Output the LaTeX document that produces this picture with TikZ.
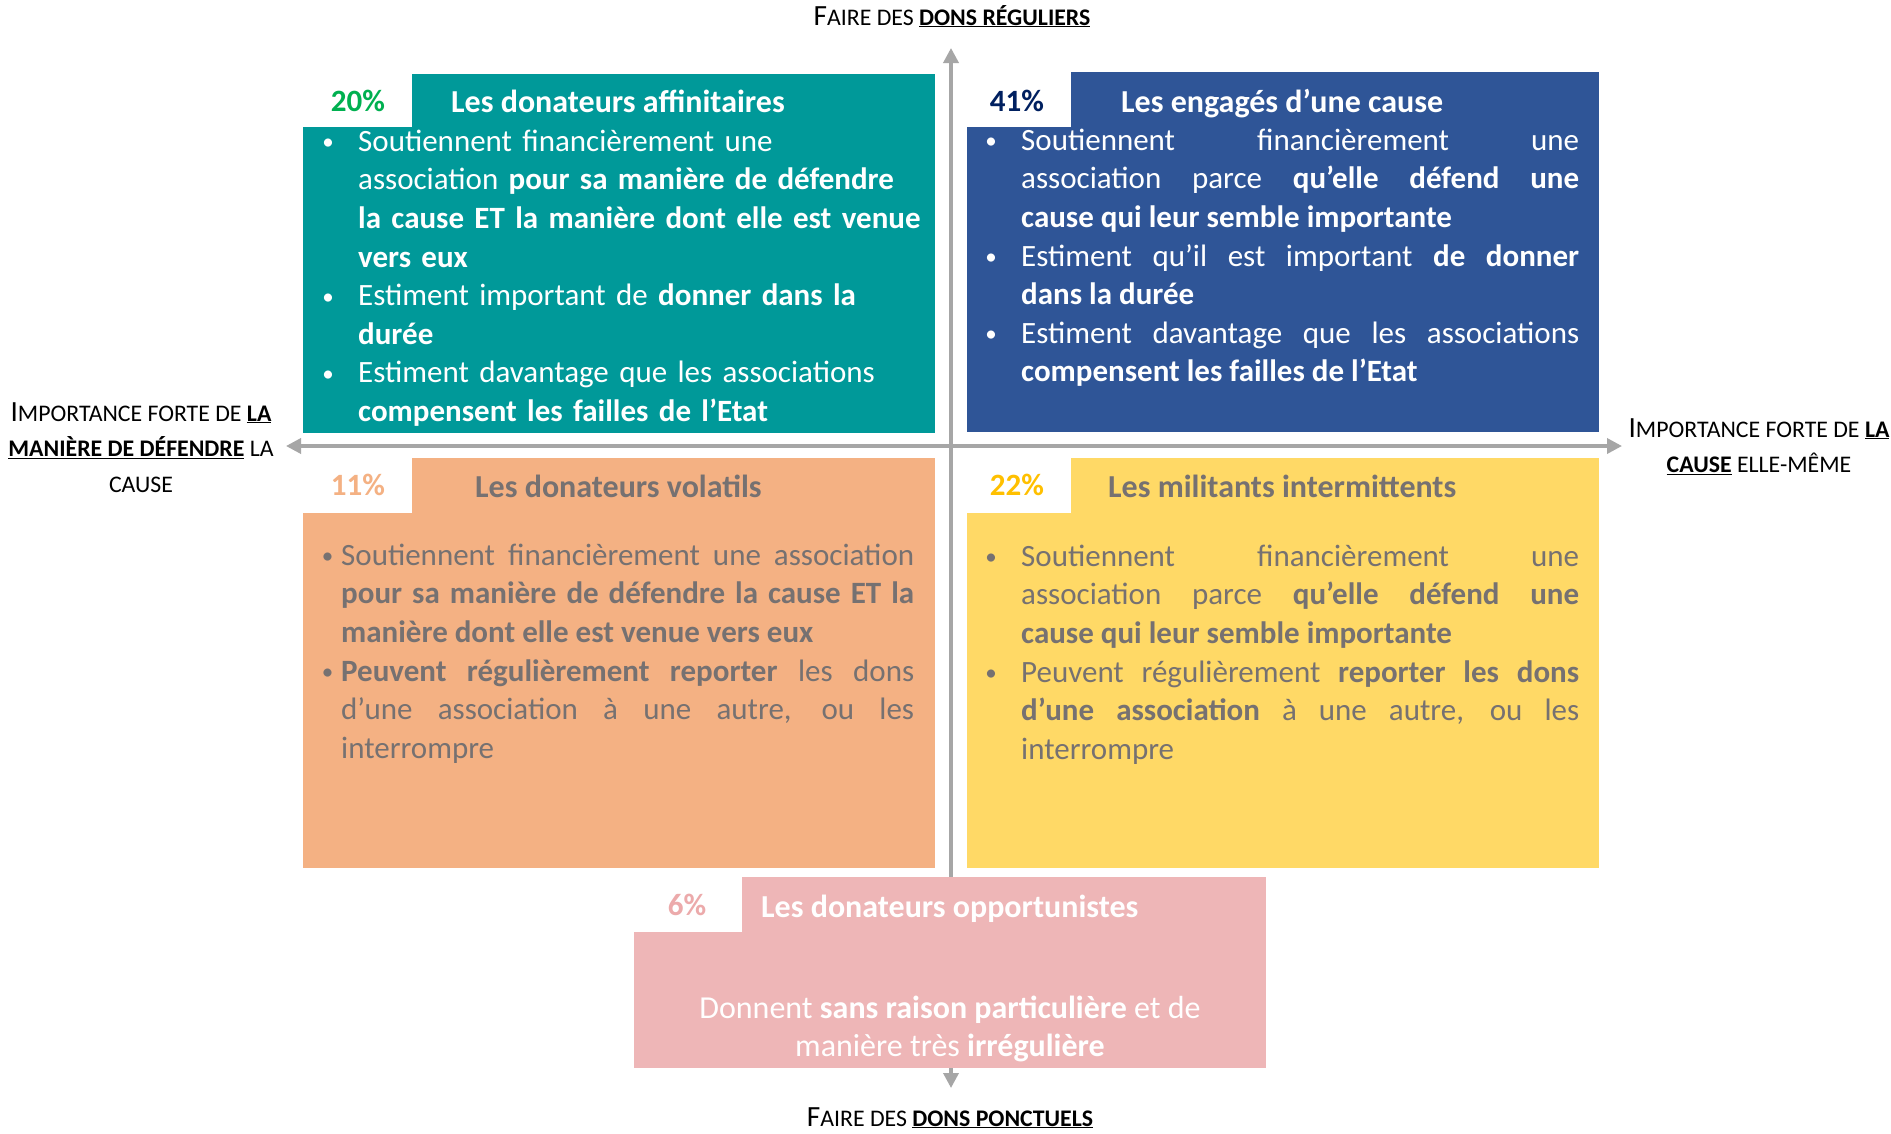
\documentclass[tikz,border=0pt]{standalone}
\usepackage{fontspec}
\setmainfont{Carlito}
\usetikzlibrary{arrows.meta}
\definecolor{tealbox}{HTML}{009999}
\definecolor{bluebox}{HTML}{2F5597}
\definecolor{orangebox}{HTML}{F4B183}
\definecolor{yellowbox}{HTML}{FFD966}
\definecolor{pinkbox}{HTML}{EEB6B7}
\definecolor{graytxt}{HTML}{767171}
\definecolor{axisgray}{HTML}{A6A6A6}
\definecolor{greenpct}{HTML}{00B050}
\definecolor{navypct}{HTML}{002060}
\definecolor{goldpct}{HTML}{FFC000}
\definecolor{orangepct}{HTML}{F4B183}
\definecolor{pinkpct}{HTML}{ECAAAB}
\newcommand\bodyfont{\fontsize{31}{38.6}\selectfont}
\newcommand\ttlfont{\fontsize{32}{38.6}\selectfont}
\newcommand\labfont{\fontsize{29.3}{35.5}\selectfont}
\newcommand\smc[1]{{\fontsize{23.8}{35.5}\selectfont #1}}
\newcommand\bul[1]{\leavevmode\llap{\makebox[#1]{\raisebox{1.5pt}{\fontsize{23}{23}\selectfont\textbullet}}}}
\tikzset{
  quad/.style={rectangle, inner sep=0pt, outer sep=0pt, anchor=north west, draw=none},
  tab/.style={rectangle, inner sep=0pt, outer sep=0pt, anchor=north west, fill=white, draw=none},
  pct/.style={inner sep=0pt, anchor=base, font=\bodyfont\bfseries},
  ttl/.style={inner sep=0pt, anchor=base west, font=\ttlfont\bfseries},
  bodytext/.style={inner sep=0pt, anchor=north west, font=\bodyfont},
  axislabel/.style={inner sep=0pt, anchor=north, align=center, font=\labfont, text=black},
  axis/.style={draw=axisgray, line width=3.5pt, {Triangle[length=15pt,width=15pt]}-{Triangle[length=15pt,width=15pt]}}
}
\begin{document}
\begin{tikzpicture}[x=1pt,y=-1pt]
\useasboundingbox[fill=white] (0,0) rectangle (1891,1133);
% axes
\coordinate (vt) at (951,48);
\coordinate (vb) at (951,1088);
\coordinate (hl) at (286,446);
\coordinate (hr) at (1622,446);
\draw[axis] (vb) -- (vt);
\draw[axis] (hl) -- (hr);
% boxes
\node[quad, fill=tealbox, minimum width=632pt, minimum height=359pt] (q1) at (303,74) {};
\node[quad, fill=bluebox, minimum width=632pt, minimum height=360pt] (q2) at (967,72) {};
\node[quad, fill=orangebox, minimum width=632pt, minimum height=410pt] (q3) at (303,458) {};
\node[quad, fill=yellowbox, minimum width=632pt, minimum height=410pt] (q4) at (967,458) {};
\node[quad, fill=pinkbox, minimum width=632pt, minimum height=191pt] (q5) at (634,877) {};
% tabs
\node[tab, minimum width=109pt, minimum height=53pt] (t1) at (303,74) {};
\node[tab, minimum width=104pt, minimum height=55pt] (t2) at (967,72) {};
\node[tab, minimum width=109pt, minimum height=55pt] (t3) at (303,458) {};
\node[tab, minimum width=104pt, minimum height=55pt] (t4) at (967,458) {};
\node[tab, minimum width=108pt, minimum height=55pt] (t5) at (634,877) {};
% percentages
\node[pct, text=greenpct] (p1) at (358,111) {20\%};
\node[pct, text=navypct] (p2) at (1017,111) {41\%};
\node[pct, text=orangepct] (p3) at (358,495) {11\%};
\node[pct, text=goldpct] (p4) at (1017,495) {22\%};
\node[pct, text=pinkpct] (p5) at (687,915) {6\%};
% titles
\node[ttl, text=white] (h1) at (451,112) {Les donateurs affinitaires};
\node[ttl, text=white] (h2) at (1121,112) {Les engagés d’une cause};
\node[ttl, text=graytxt] (h3) at (475,497) {Les donateurs volatils};
\node[ttl, text=graytxt] (h4) at (1108,497) {Les militants intermittents};
\node[ttl, text=white] (h5) at (761,917) {Les donateurs opportunistes};
% bodies
\node[bodytext, text=white, text width=600pt, align=left] (b1) at (358,124) {\parindent=0pt\relax
\bul{60pt}\strut Soutiennent financièrement une\newline association \textbf{pour sa manière de défendre}\newline \textbf{la cause ET la manière dont elle est venue}\newline \textbf{vers eux}\par
\bul{60pt}\strut Estiment important de \textbf{donner dans la}\newline \textbf{durée}\par
\bul{60pt}\strut Estiment davantage que les associations\newline \textbf{compensent les failles de l’Etat}\par};
\node[bodytext, text=white, text width=558pt, align=justify] (b2) at (1021,123) {\parindent=0pt\relax
\bul{60pt}\strut Soutiennent financièrement une\linebreak association parce \textbf{qu’elle défend une}\linebreak \textbf{cause qui leur semble importante}\par
\bul{60pt}\strut Estiment qu’il est important \textbf{de donner}\linebreak \textbf{dans la durée}\par
\bul{60pt}\strut Estiment davantage que les associations\linebreak \textbf{compensent les failles de l’Etat}\par};
\node[bodytext, text=graytxt, text width=573pt, align=justify] (b3) at (341,538) {\parindent=0pt\relax
\bul{27pt}\strut Soutiennent financièrement une association\linebreak \textbf{pour sa manière de défendre la cause ET la}\linebreak \textbf{manière dont elle est venue vers eux}\par
\bul{27pt}\strut \textbf{Peuvent régulièrement reporter} les dons\linebreak d’une association à une autre, ou les\linebreak interrompre\par};
\node[bodytext, text=graytxt, text width=558pt, align=justify] (b4) at (1021,539) {\parindent=0pt\relax
\bul{60pt}\strut Soutiennent financièrement une\linebreak association parce \textbf{qu’elle défend une}\linebreak \textbf{cause qui leur semble importante}\par
\bul{60pt}\strut Peuvent régulièrement \textbf{reporter les dons}\linebreak \textbf{d’une association} à une autre, ou les\linebreak interrompre\par};
\node[inner sep=0pt, anchor=north, align=center, font=\fontsize{32}{38.6}\selectfont, text=white] (b5) at (950,991) {\strut Donnent \textbf{sans raison particulière} et de\\\strut manière très \textbf{irrégulière}};
% axis labels
\node[axislabel] (lt) at (952,0) {\strut F\smc{AIRE DES \underline{\textbf{DONS RÉGULIERS}}}};
\node[axislabel] (lb) at (950,1101) {\strut F\smc{AIRE DES \underline{\textbf{DONS PONCTUELS}}}};
\node[axislabel] (ll) at (141,396) {\strut I\smc{MPORTANCE FORTE DE \underline{\textbf{LA}}}\\\strut\smc{\underline{\textbf{MANIÈRE DE DÉFENDRE}} LA}\\\strut\smc{CAUSE}};
\node[axislabel] (lr) at (1759,412) {\strut I\smc{MPORTANCE FORTE DE \underline{\textbf{LA}}}\\\strut\smc{\underline{\textbf{CAUSE}} ELLE-MÊME}};
\end{tikzpicture}
\end{document}
